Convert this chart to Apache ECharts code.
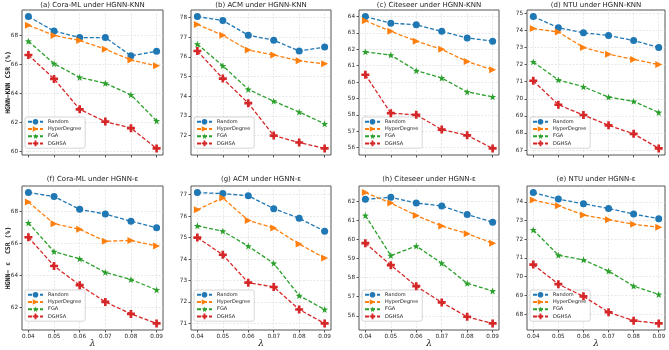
<!DOCTYPE html>
<html><head><meta charset="utf-8">
<script src="https://cdn.jsdelivr.net/npm/echarts@6/dist/echarts.min.js"></script>
<style>html,body{margin:0;padding:0;background:#fff}#c{width:669px;height:350px}</style>
</head><body><div id="c"></div>
<script>
// ---------- data ----------
const lambdas = [0.04, 0.05, 0.06, 0.07, 0.08, 0.09];
const methods = ['Random', 'HyperDegree', 'FGA', 'DGHSA'];
const titles = ['(a) Cora-ML under HGNN-KNN', '(b) ACM under HGNN-KNN', '(c) Citeseer under HGNN-KNN', '(d) NTU under HGNN-KNN',
                '(f) Cora-ML under HGNN-ε', '(g) ACM under HGNN-ε', '(h) Citeseer under HGNN-ε', '(e) NTU under HGNN-ε'];
const yNameKnn = 'HGNN−KNN CSR (%)';
const yNameEps = 'HGNN− ε  CSR (%)';
const xName = 'λ';

const coraKnnRandom = [69.3, 68.3, 67.85, 67.85, 66.6, 66.9];
const coraKnnHyper  = [68.7, 68.0, 67.65, 67.05, 66.3, 65.9];
const coraKnnFGA    = [67.6, 66.05, 65.1, 64.7, 63.9, 62.1];
const coraKnnDGHSA  = [66.65, 65.0, 62.9, 62.05, 61.6, 60.2];
const coraKnnTicks  = [60, 62, 64, 66, 68];

const acmKnnRandom = [78.05, 77.85, 77.1, 76.85, 76.3, 76.5];
const acmKnnHyper  = [77.65, 77.1, 76.35, 76.1, 75.8, 75.65];
const acmKnnFGA    = [76.65, 75.55, 74.35, 73.75, 73.2, 72.6];
const acmKnnDGHSA  = [76.3, 74.9, 73.65, 72.0, 71.65, 71.35];
const acmKnnTicks  = [72, 73, 74, 75, 76, 77, 78];

const citeKnnRandom = [64.0, 63.6, 63.5, 63.1, 62.7, 62.5];
const citeKnnHyper  = [63.75, 63.1, 62.5, 62.0, 61.25, 60.75];
const citeKnnFGA    = [61.85, 61.65, 60.7, 60.25, 59.4, 59.1];
const citeKnnDGHSA  = [60.45, 58.1, 58.0, 57.1, 56.75, 55.95];
const citeKnnTicks  = [56, 57, 58, 59, 60, 61, 62, 63, 64];

const ntuKnnRandom = [74.8, 74.15, 73.85, 73.7, 73.4, 73.0];
const ntuKnnHyper  = [74.1, 73.9, 73.0, 72.6, 72.3, 72.0];
const ntuKnnFGA    = [72.15, 71.1, 70.7, 70.1, 69.85, 69.2];
const ntuKnnDGHSA  = [71.05, 69.65, 69.05, 68.45, 67.95, 67.1];
const ntuKnnTicks  = [67, 68, 69, 70, 71, 72, 73, 74, 75];

const coraEpsRandom = [69.2, 68.95, 68.15, 67.85, 67.4, 67.0];
const coraEpsHyper  = [68.6, 67.25, 66.9, 66.15, 66.2, 65.85];
const coraEpsFGA    = [67.3, 65.5, 65.05, 64.2, 63.75, 63.1];
const coraEpsDGHSA  = [66.4, 64.6, 63.4, 62.35, 61.6, 61.0];
const coraEpsTicks  = [62, 64, 66, 68];

const acmEpsRandom = [77.1, 77.05, 76.95, 76.35, 75.9, 75.3];
const acmEpsHyper  = [76.3, 76.85, 75.8, 75.45, 74.7, 74.05];
const acmEpsFGA    = [75.55, 75.3, 74.6, 73.8, 72.3, 71.65];
const acmEpsDGHSA  = [75.0, 74.2, 72.9, 72.7, 71.65, 71.0];
const acmEpsTicks  = [71, 72, 73, 74, 75, 76, 77];

const citeEpsRandom = [62.1, 62.2, 61.9, 61.75, 61.3, 60.9];
const citeEpsHyper  = [62.45, 61.9, 61.25, 60.7, 60.3, 59.8];
const citeEpsFGA    = [61.25, 59.15, 59.65, 58.75, 57.7, 57.3];
const citeEpsDGHSA  = [59.8, 58.65, 57.55, 56.7, 55.95, 55.6];
const citeEpsTicks  = [56, 57, 58, 59, 60, 61, 62];

const ntuEpsRandom = [74.5, 74.15, 73.9, 73.65, 73.35, 73.1];
const ntuEpsHyper  = [74.1, 73.8, 73.3, 73.05, 72.8, 72.65];
const ntuEpsFGA    = [72.5, 71.15, 70.9, 70.3, 69.5, 69.05];
const ntuEpsDGHSA  = [70.65, 69.6, 68.95, 68.1, 67.65, 67.5];
const ntuEpsTicks  = [68, 69, 70, 71, 72, 73, 74];

const panelSeries = [
  [coraKnnRandom, coraKnnHyper, coraKnnFGA, coraKnnDGHSA],
  [acmKnnRandom, acmKnnHyper, acmKnnFGA, acmKnnDGHSA],
  [citeKnnRandom, citeKnnHyper, citeKnnFGA, citeKnnDGHSA],
  [ntuKnnRandom, ntuKnnHyper, ntuKnnFGA, ntuKnnDGHSA],
  [coraEpsRandom, coraEpsHyper, coraEpsFGA, coraEpsDGHSA],
  [acmEpsRandom, acmEpsHyper, acmEpsFGA, acmEpsDGHSA],
  [citeEpsRandom, citeEpsHyper, citeEpsFGA, citeEpsDGHSA],
  [ntuEpsRandom, ntuEpsHyper, ntuEpsFGA, ntuEpsDGHSA]
];
const panelTicks = [coraKnnTicks, acmKnnTicks, citeKnnTicks, ntuKnnTicks, coraEpsTicks, acmEpsTicks, citeEpsTicks, ntuEpsTicks];

// ---------- layout / style ----------
const colLeft = [22, 191, 359, 527];
const colWidth = [141, 140, 140, 138];
const rowTop = [10, 186];
const rowHeight = [145, 144];
const legendTop = [117, 290];
const colors = ['#1f77b4', '#ff7f0e', '#2ca02c', '#d62728'];
const symbols = [
  'circle',
  'path://M0,0L10,5L0,10Z',
  'path://M10,0L12.35,6.76L19.51,6.91L13.8,11.24L15.88,18.09L10,14L4.12,18.09L6.2,11.24L0.49,6.91L7.65,6.76Z',
  'path://M3.33,0H6.67V3.33H10V6.67H6.67V10H3.33V6.67H0V3.33H3.33Z'
];
const symbolSizes = [7, 7, 7, 8];
const FONT = 'DejaVu Sans';

const grids = [], xAxes = [], yAxes = [], series = [], legends = [], graphics = [];
for (let p = 0; p < 8; p++) {
  const row = Math.floor(p / 4), col = p % 4;
  const left = colLeft[col], top = rowTop[row], w = colWidth[col], h = rowHeight[row];
  grids.push({left: left, top: top, width: w, height: h, show: true, borderColor: '#555', borderWidth: 1, backgroundColor: 'transparent'});
  const all = [].concat(...panelSeries[p]);
  const mn = Math.min(...all), mx = Math.max(...all), pad = (mx - mn) * 0.05;
  const ticks = panelTicks[p];
  const step = ticks[1] - ticks[0];
  const splitStyle = {show: true, lineStyle: {color: '#d8d8d8', width: 0.6, type: [2, 1.5]}};
  xAxes.push({
    gridIndex: p, type: 'value', min: 0.0375, max: 0.0925, minInterval: 0.01, maxInterval: 0.01,
    axisLine: {show: false},
    axisTick: {show: true, customValues: lambdas, length: 2.5, lineStyle: {color: '#333', width: 0.8}},
    axisLabel: {show: row === 1, customValues: lambdas, formatter: v => v.toFixed(2), fontSize: 5.7, fontFamily: FONT, color: '#222', margin: 3.5},
    splitLine: splitStyle
  });
  const ya = {
    gridIndex: p, type: 'value', min: mn - pad, max: mx + pad, minInterval: step, maxInterval: step,
    axisLine: {show: false},
    axisTick: {show: true, customValues: ticks, length: 2.5, lineStyle: {color: '#333', width: 0.8}},
    axisLabel: {customValues: ticks, fontSize: 5.7, fontFamily: FONT, color: '#222', margin: 4},
    splitLine: splitStyle
  };
  yAxes.push(ya);
  for (let s = 0; s < 4; s++) {
    series.push({
      type: 'line', name: methods[s], xAxisIndex: p, yAxisIndex: p,
      data: lambdas.map((x, k) => [x, panelSeries[p][s][k]]),
      symbol: symbols[s], symbolSize: symbolSizes[s], showSymbol: true,
      lineStyle: {color: colors[s], width: 1.3, type: [4, 2]},
      itemStyle: {color: colors[s]},
      z: 2 + s, animation: false, silent: true
    });
  }
  legends.push({
    left: left + 3, top: legendTop[row], orient: 'vertical',
    itemWidth: 15, itemHeight: 7, itemGap: 1.6, padding: [2, 4, 2, 2],
    backgroundColor: 'rgba(255,255,255,0.85)', borderColor: '#cccccc', borderWidth: 0.8, borderRadius: 2,
    textStyle: {fontSize: 5, fontFamily: FONT, color: '#222'},
    data: methods, selectedMode: false
  });
  graphics.push({
    type: 'text', x: left + w / 2, y: row === 0 ? 5 : 179,
    style: {text: titles[p], font: '7px "DejaVu Sans"', fill: '#222', textAlign: 'center', textVerticalAlign: 'middle'}
  });
  if (row === 1) {
    graphics.push({
      type: 'text', x: left + w / 2, y: 344,
      style: {text: xName, font: 'italic 9px "DejaVu Serif"', fill: '#222', textAlign: 'center', textVerticalAlign: 'middle'}
    });
  }
  if (col === 0) {
    graphics.push({
      type: 'text', x: 8, y: top + h / 2, rotation: Math.PI / 2,
      style: {text: row === 0 ? yNameKnn : yNameEps, font: 'bold 6.5px "DejaVu Sans Mono"', fill: '#222', textAlign: 'center', textVerticalAlign: 'middle'}
    });
  }
}

const chart = echarts.init(document.getElementById('c'), null, {renderer: 'canvas'});
chart.setOption({
  animation: false,
  backgroundColor: '#fff',
  grid: grids, xAxis: xAxes, yAxis: yAxes, series: series, legend: legends, graphic: graphics
});
</script></body></html>
